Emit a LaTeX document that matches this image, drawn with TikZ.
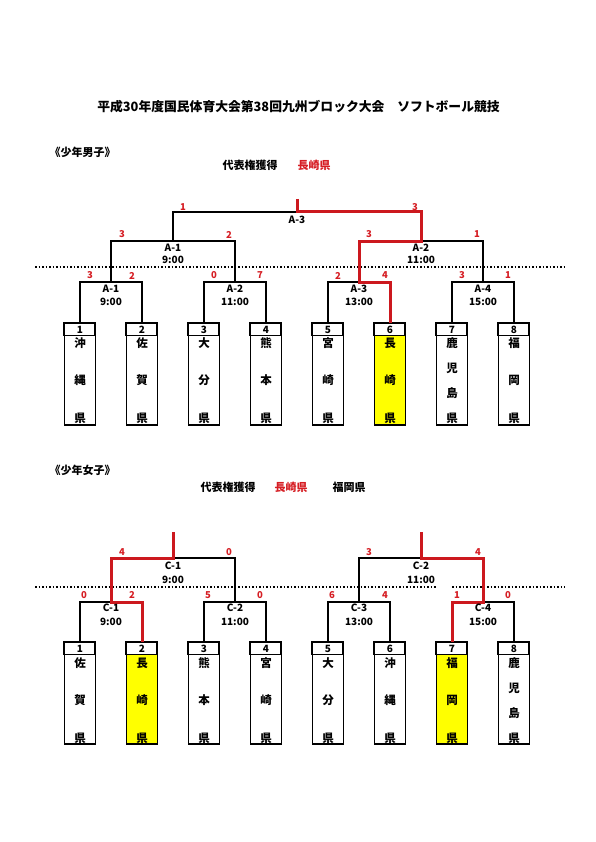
\documentclass[tikz,border=0pt]{standalone}
\usepackage{fontspec}
\setmainfont{Noto Sans CJK JP}[BoldFont={Noto Sans CJK JP Black}]
\usetikzlibrary{positioning}
\definecolor{winred}{RGB}{204,24,30}
\definecolor{scorered}{RGB}{214,30,36}
\definecolor{padyellow}{RGB}{255,255,0}

\tikzset{
  bline/.style={line width=1.5pt},
  win/.style={winred,line width=3pt},
  dotline/.style={line width=1.5pt,dash pattern=on 1.5pt off 2pt},
  score/.style={text=scorered,font=\fontsize{9.5}{10}\selectfont\bfseries,inner sep=0pt},
  matchlbl/.style={font=\fontsize{10}{10}\selectfont\bfseries,inner sep=0pt},
  teambox/.style={draw,line width=1.5pt,minimum width=31pt,minimum height=101pt,inner sep=0pt,anchor=north},
  kenchar/.style={font=\fontsize{11.5}{11.5}\selectfont\bfseries,inner sep=0pt},
  boxnum/.style={font=\fontsize{10}{10}\selectfont\bfseries,inner sep=0pt}
}

\begin{document}
\begin{tikzpicture}[x=1pt,y=-1pt,font=\bfseries]
\useasboundingbox[fill=white] (0,0) rectangle (595,842);

% headings
\node[font=\fontsize{12.8}{13}\selectfont\bfseries] (title) at (298.5,107) {平成30年度国民体育大会第38回九州ブロック大会　ソフトボール競技};
\node[anchor=west,font=\fontsize{11}{11}\selectfont\bfseries] (boys) at (46,152) {《少年男子》};
\node[anchor=west,font=\fontsize{11}{11}\selectfont\bfseries] (bqual) at (219,165) {代表権獲得};
\node[anchor=west,text=scorered,font=\fontsize{11}{11}\selectfont\bfseries] (bwin) at (294,165) {長崎県};
\node[anchor=west,font=\fontsize{11}{11}\selectfont\bfseries] (girls) at (46,470) {《少年女子》};
\node[anchor=west,font=\fontsize{11}{11}\selectfont\bfseries] (gqual) at (197,487) {代表権獲得};
\node[anchor=west,text=scorered,font=\fontsize{11}{11}\selectfont\bfseries] (gwin1) at (271,487) {長崎県};
\node[anchor=west,font=\fontsize{11}{11}\selectfont\bfseries] (gwin2) at (329,487) {福岡県};

% team boxes, boys
\foreach \n/\x/\f/\d/\chars in {1/80/white/37.5/{沖,縄,県},2/142/white/37.5/{佐,賀,県},
    3/204/white/37.5/{大,分,県},4/266/white/37.5/{熊,本,県},5/328/white/37.5/{宮,崎,県},
    6/390/padyellow/37.5/{長,崎,県},7/452/white/25/{鹿,児,島,県},8/514/white/37.5/{福,岡,県}}{
  \node[teambox,fill=\f] (t\n) at (\x,323) {};
  \draw[line width=1.5pt,fill=white] (t\n.north west) rectangle ++(31,12.5);
  \node[boxnum] at (\x,329.5) {\n};
  \foreach \c [count=\j from 0] in \chars
    \node[kenchar] at (\x,343+\j*\d) {\c};
}

% team boxes, girls
\foreach \n/\x/\f/\d/\chars in {1/80/white/37.5/{佐,賀,県},2/142/padyellow/37.5/{長,崎,県},
    3/204/white/37.5/{熊,本,県},4/266/white/37.5/{宮,崎,県},5/328/white/37.5/{大,分,県},
    6/390/white/37.5/{沖,縄,県},7/452/padyellow/37.5/{福,岡,県},8/514/white/25/{鹿,児,島,県}}{
  \node[teambox,fill=\f] (g\n) at (\x,642) {};
  \draw[line width=1.5pt,fill=white] (g\n.north west) rectangle ++(31,12.5);
  \node[boxnum] at (\x,648.5) {\n};
  \foreach \c [count=\j from 0] in \chars
    \node[kenchar] at (\x,663+\j*\d) {\c};
}

% boys bracket
\coordinate (a1) at (111,282);
\coordinate (a2) at (235,282);
\coordinate (a3) at (359,282);
\coordinate (a4) at (483,282);
\coordinate (b1) at (173,241);
\coordinate (b2) at (421,241);
\coordinate (f) at (297,212);
\coordinate (champ) at (297,199);
\draw[dotline] (35,267) -- (565,267);
\draw[bline] (t1.north) |- (a1) -| (t2.north);
\draw[bline] (t3.north) |- (a2) -| (t4.north);
\draw[bline] (t5.north) |- (a3) -| (t6.north);
\draw[bline] (t7.north) |- (a4) -| (t8.north);
\draw[bline] (a1) |- (b1) -| (a2);
\draw[bline] (a3) |- (b2) -| (a4);
\draw[bline] (b1) |- (f) -| (b2);
\draw[win] (champ) -- (f) -| (b2) -| (a3) -| (t6.north);

\node[matchlbl] at (111,289) {A-1};
\node[matchlbl] at (111,301.5) {9:00};
\node[matchlbl] at (235,289) {A-2};
\node[matchlbl] at (235,301.5) {11:00};
\node[matchlbl] at (359,289) {A-3};
\node[matchlbl] at (359,301.5) {13:00};
\node[matchlbl] at (483,289) {A-4};
\node[matchlbl] at (483,301.5) {15:00};
\node[matchlbl] at (173,247.5) {A-1};
\node[matchlbl] at (173,260) {9:00};
\node[matchlbl] at (421,247.5) {A-2};
\node[matchlbl] at (421,260) {11:00};
\node[matchlbl] at (297,219.5) {A-3};

\node[score] at (90,275.5) {3};
\node[score] at (132,275.5) {2};
\node[score] at (214,275.5) {0};
\node[score] at (260,275.5) {7};
\node[score] at (338,275.5) {2};
\node[score] at (385,275.5) {4};
\node[score] at (462,275.5) {3};
\node[score] at (508,275.5) {1};
\node[score] at (122,234.5) {3};
\node[score] at (229,234.5) {2};
\node[score] at (369,234.5) {3};
\node[score] at (477,234.5) {1};
\node[score] at (183,207.5) {1};
\node[score] at (415,207.5) {3};

% girls bracket
\coordinate (c1) at (111,602);
\coordinate (c2) at (235,602);
\coordinate (c3) at (359,602);
\coordinate (c4) at (483,602);
\coordinate (d1) at (173,558);
\coordinate (d2) at (421,558);
\coordinate (champl) at (173,532);
\coordinate (champr) at (421,532);
\draw[dotline] (35,587) -- (437,587);
\draw[dotline] (452,587) -- (565,587);
\draw[bline] (g1.north) |- (c1) -| (g2.north);
\draw[bline] (g3.north) |- (c2) -| (g4.north);
\draw[bline] (g5.north) |- (c3) -| (g6.north);
\draw[bline] (g7.north) |- (c4) -| (g8.north);
\draw[bline] (c1) |- (d1) -| (c2);
\draw[bline] (c3) |- (d2) -| (c4);
\draw[win] (champl) -- (d1) -| (c1) -| (g2.north);
\draw[win] (champr) -- (d2) -| (c4) -| (g7.north);

\node[matchlbl] at (111,608) {C-1};
\node[matchlbl] at (111,621.5) {9:00};
\node[matchlbl] at (235,608) {C-2};
\node[matchlbl] at (235,621.5) {11:00};
\node[matchlbl] at (359,608) {C-3};
\node[matchlbl] at (359,621.5) {13:00};
\node[matchlbl] at (483,608) {C-4};
\node[matchlbl] at (483,621.5) {15:00};
\node[matchlbl] at (173,566) {C-1};
\node[matchlbl] at (173,579.5) {9:00};
\node[matchlbl] at (421,566) {C-2};
\node[matchlbl] at (421,579.5) {11:00};

\node[score] at (84,595) {0};
\node[score] at (132,595) {2};
\node[score] at (208,595) {5};
\node[score] at (260,595) {0};
\node[score] at (332,595) {6};
\node[score] at (385,595) {4};
\node[score] at (457,595) {1};
\node[score] at (508,595) {0};
\node[score] at (122,552.5) {4};
\node[score] at (229,552.5) {0};
\node[score] at (369,552.5) {3};
\node[score] at (478,552.5) {4};
\end{tikzpicture}
\end{document}
